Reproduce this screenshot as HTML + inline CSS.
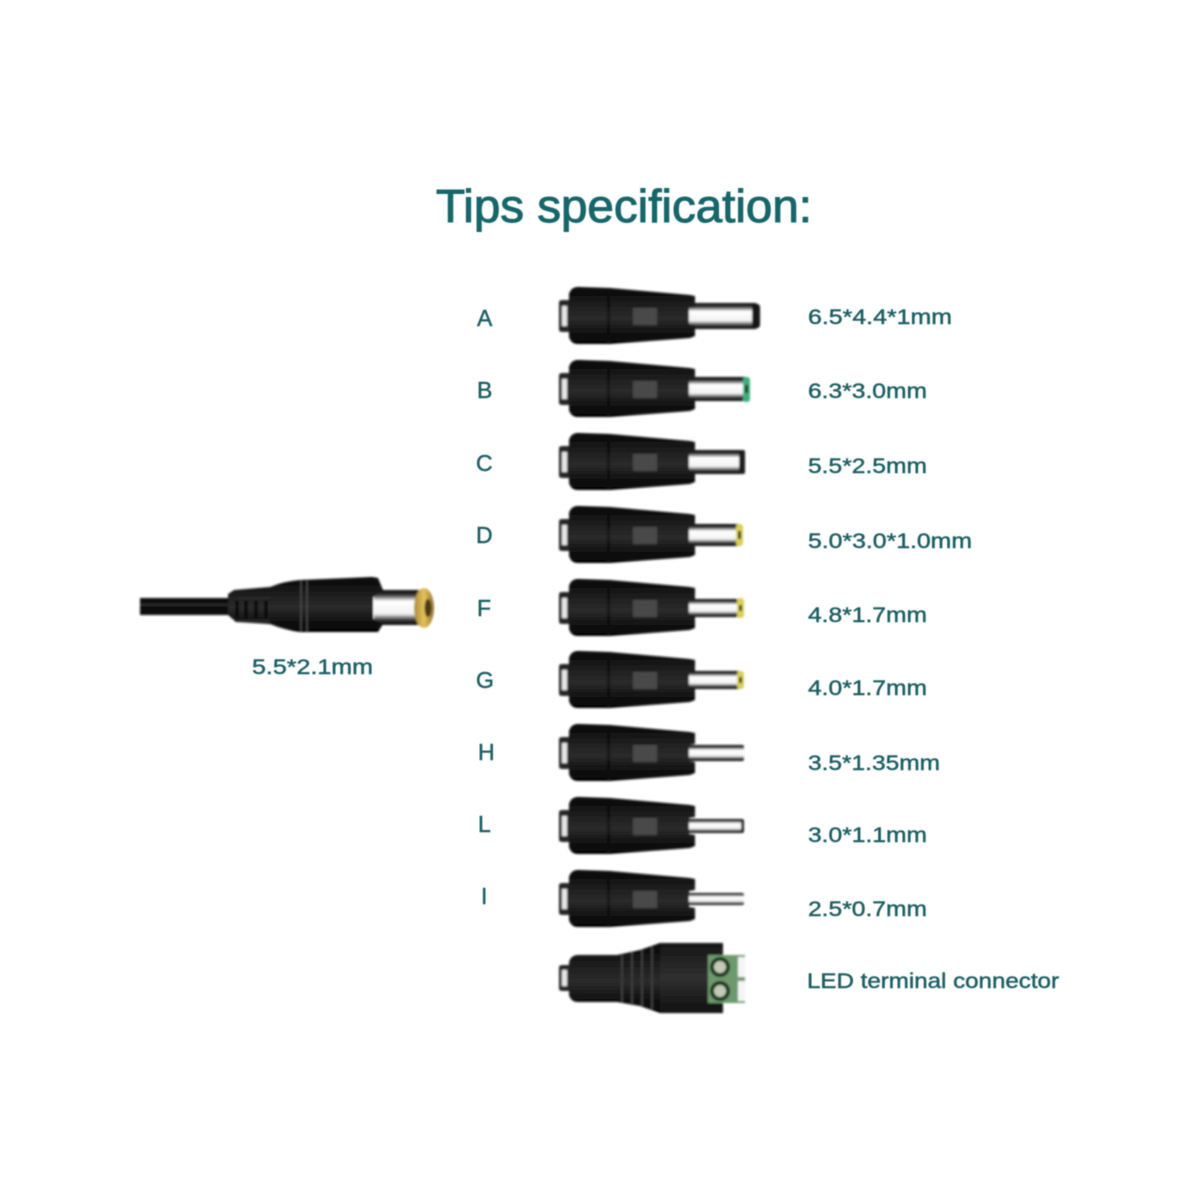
<!DOCTYPE html>
<html><head><meta charset="utf-8"><title>Tips specification</title>
<style>html,body{margin:0;padding:0;background:#fff}svg{display:block}
text{font-family:"Liberation Sans",sans-serif;fill:#1f5f63;stroke:#1f5f63;stroke-width:.45px}</style></head>
<body>
<svg width="1200" height="1200" viewBox="0 0 1200 1200" xmlns="http://www.w3.org/2000/svg">
<defs>
<linearGradient id="bd" x1="0" y1="0" x2="0" y2="1"><stop offset="0" stop-color="#050505"/><stop offset=".3" stop-color="#1d1d1d"/><stop offset=".55" stop-color="#2b2b2b"/><stop offset=".8" stop-color="#121212"/><stop offset="1" stop-color="#030303"/></linearGradient>
<linearGradient id="bx" x1="0" y1="0" x2="0" y2="1"><stop offset="0" stop-color="#161616"/><stop offset=".5" stop-color="#303030"/><stop offset="1" stop-color="#101010"/></linearGradient>
<linearGradient id="mt" x1="0" y1="0" x2="0" y2="1"><stop offset="0" stop-color="#0a0a0a"/><stop offset=".14" stop-color="#333"/><stop offset=".32" stop-color="#fff"/><stop offset=".68" stop-color="#f2f2f2"/><stop offset=".86" stop-color="#333"/><stop offset="1" stop-color="#0a0a0a"/></linearGradient>
<linearGradient id="gd" x1="0" y1="0" x2="1" y2="0"><stop offset="0" stop-color="#a88a3a"/><stop offset=".5" stop-color="#e6c25a"/><stop offset="1" stop-color="#8d7430"/></linearGradient>
<filter id="b" x="-10%" y="-10%" width="120%" height="120%"><feGaussianBlur stdDeviation="1"/></filter>
<filter id="t" x="-5%" y="-20%" width="110%" height="140%"><feGaussianBlur stdDeviation=".5"/></filter>
<g id="body">
<path d="M559 -14 Q559 -16 563 -16 L570 -16 L570 16 L563 16 Q559 16 559 14Z" fill="#262626"/>
<rect x="562" y="-10" width="5" height="20" fill="#e6e6e6"/>
<path d="M569 -22 Q571 -29 578 -29 L610 -28 L690 -21 L695 -20 L695 -9 L689 -8 L689 8 L695 9 L695 20 L690 22 L610 28 L578 28 Q571 28 569 21Z" fill="url(#bd)"/>
<path d="M607 -27 L610 -27 L610 27 L607 27Z" fill="#0c0c0c" opacity=".7"/>
<rect x="633" y="-8" width="24" height="17" fill="#484848"/>
</g>
</defs>

<text x="436" y="222" font-size="46" textLength="376" lengthAdjust="spacingAndGlyphs" filter="url(#t)" style="fill:#17666b;stroke:#17666b;stroke-width:1px">Tips specification:</text>

<g filter="url(#b)">
<!-- A -->
<g transform="translate(0,316)"><rect x="688" y="-13" width="70" height="26" rx="3" fill="url(#mt)"/><rect x="752" y="-12" width="8" height="24" rx="3" fill="#181818"/><use href="#body"/></g>
<!-- B -->
<g transform="translate(0,389)"><rect x="688" y="-12" width="58" height="24" fill="url(#mt)"/><rect x="743" y="-12" width="7" height="25" rx="3" fill="#3fae7c"/><rect x="745" y="-4" width="3" height="8" fill="#222"/><use href="#body"/></g>
<!-- C -->
<g transform="translate(0,462)"><rect x="688" y="-12" width="56" height="24" fill="url(#mt)"/><rect x="739" y="-12" width="6" height="24" rx="2" fill="#1c1c1c"/><use href="#body"/></g>
<!-- D -->
<g transform="translate(0,535)"><rect x="688" y="-11" width="52" height="22" fill="url(#mt)"/><rect x="736" y="-11" width="7" height="22" rx="3" fill="#d8cf55"/><rect x="738" y="-4" width="3" height="8" fill="#333"/><use href="#body"/></g>
<!-- F -->
<g transform="translate(0,608)"><rect x="688" y="-9" width="52" height="18" fill="url(#mt)"/><rect x="737" y="-10" width="7" height="20" rx="3" fill="#d8cf55"/><rect x="739" y="-3" width="3" height="6" fill="#333"/><use href="#body"/></g>
<!-- G -->
<g transform="translate(0,680)"><rect x="688" y="-9" width="52" height="18" fill="url(#mt)"/><rect x="737" y="-9" width="7" height="18" rx="3" fill="#d8cf55"/><rect x="739" y="-3" width="3" height="6" fill="#333"/><use href="#body"/></g>
<!-- H -->
<g transform="translate(0,753)"><rect x="688" y="-8" width="56" height="16" rx="2" fill="url(#mt)"/><use href="#body"/></g>
<!-- L -->
<g transform="translate(0,826)"><rect x="688" y="-7" width="56" height="14" rx="2" fill="url(#mt)"/><rect x="741" y="-5" width="3" height="10" fill="#222"/><use href="#body"/></g>
<!-- I -->
<g transform="translate(0,899)"><rect x="688" y="-6" width="56" height="12" rx="2" fill="url(#mt)"/><use href="#body"/></g>

<!-- Terminal -->
<path d="M559 967 Q559 965 563 965 L570 965 L570 991 L563 991 Q559 991 559 989Z" fill="#262626"/>
<rect x="562" y="970" width="5" height="16" fill="#e6e6e6"/>
<path d="M569 962 Q571 955 578 955 L617 955 L640 950 L660 943 L723 943 L723 1013 L660 1013 L640 1006 L617 1002 L578 1002 Q571 1002 569 995Z" fill="url(#bd)"/>
<path d="M622 955 V1002 M632 952 V1005 M642 950 V1006 M652 947 V1009" stroke="#3c3c3c" stroke-width="2" fill="none"/>
<rect x="660" y="943" width="63" height="70" fill="url(#bx)"/>
<rect x="708" y="955" width="37" height="48" fill="#6d9a6d"/>
<rect x="738" y="957" width="7" height="20" fill="#f4f4f4"/><rect x="738" y="981" width="7" height="20" fill="#f4f4f4"/>
<circle cx="720" cy="967" r="8" fill="#c5c9b8" stroke="#173a1c" stroke-width="4"/>
<circle cx="720" cy="991" r="8" fill="#c5c9b8" stroke="#173a1c" stroke-width="4"/>

<!-- Main plug -->
<rect x="140" y="598" width="92" height="17" fill="#0a0a0a"/>
<rect x="140" y="604" width="92" height="1.5" fill="#333"/>
<rect x="374" y="590" width="46" height="35" fill="url(#mt)"/>
<path d="M228 594 L234 590 L270 587 Q285 581 300 580 L372 577 L378 578 L383 590 L373 597 L373 619 L383 624 L378 632 L300 632 Q285 630 270 624 L236 622 L228 615Z" fill="url(#bd)"/>
<path d="M237 601 V618 M246 601 V618 M256 601 V618 M266 601 V618" stroke="#000" stroke-width="3" fill="none"/>
<path d="M238 598 H270 M238 621 H270" stroke="#2a2a2a" stroke-width="2" fill="none"/>
<path d="M301 581 V631 M307 581 V631" stroke="#4a4a4a" stroke-width="1.5" fill="none"/>
<ellipse cx="424" cy="608" rx="10" ry="20" fill="url(#gd)"/>
<ellipse cx="428" cy="608" rx="3.5" ry="9" fill="#4b3a14"/>
</g>

<g filter="url(#t)" font-size="23">
<text x="477" y="326">A</text>
<text x="477" y="398">B</text>
<text x="476" y="471">C</text>
<text x="476" y="543">D</text>
<text x="477" y="616">F</text>
<text x="476" y="688">G</text>
<text x="478" y="760">H</text>
<text x="478" y="832">L</text>
<text x="481" y="904">I</text>
</g>
<g filter="url(#t)" font-size="21">
<text x="252" y="674" textLength="121" lengthAdjust="spacingAndGlyphs">5.5*2.1mm</text>
<text x="808" y="324" textLength="144" lengthAdjust="spacingAndGlyphs">6.5*4.4*1mm</text>
<text x="808" y="398" textLength="119" lengthAdjust="spacingAndGlyphs">6.3*3.0mm</text>
<text x="808" y="473" textLength="119" lengthAdjust="spacingAndGlyphs">5.5*2.5mm</text>
<text x="808" y="548" textLength="164" lengthAdjust="spacingAndGlyphs">5.0*3.0*1.0mm</text>
<text x="808" y="622" textLength="119" lengthAdjust="spacingAndGlyphs">4.8*1.7mm</text>
<text x="808" y="695" textLength="119" lengthAdjust="spacingAndGlyphs">4.0*1.7mm</text>
<text x="808" y="770" textLength="132" lengthAdjust="spacingAndGlyphs">3.5*1.35mm</text>
<text x="808" y="842" textLength="119" lengthAdjust="spacingAndGlyphs">3.0*1.1mm</text>
<text x="808" y="916" textLength="119" lengthAdjust="spacingAndGlyphs">2.5*0.7mm</text>
<text x="807" y="988" textLength="252" lengthAdjust="spacingAndGlyphs">LED  terminal connector</text>
</g>
</svg>
</body></html>
